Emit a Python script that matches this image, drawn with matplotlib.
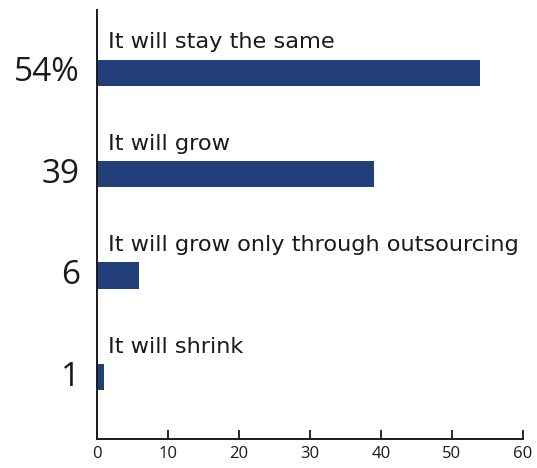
import matplotlib
matplotlib.use("Agg")
import matplotlib.pyplot as plt

plt.rcParams['font.family'] = ['Open Sans', 'DejaVu Sans']

categories = ["It will stay the same", "It will grow",
              "It will grow only through outsourcing", "It will shrink"]
values = [54, 39, 6, 1]
value_labels = ["54%", "39", "6", "1"]
xticks = [0, 10, 20, 30, 40, 50, 60]

bar_color = "#223f7a"
text_color = "#1a1a1a"

fig = plt.figure(figsize=(5.37, 4.68), dpi=100)
ax = fig.add_axes([0.180, 0.062, 0.794, 0.917])

ypos = list(range(len(categories)))
ax.barh(ypos, values, height=0.26, color=bar_color)

for y, cat, lab in zip(ypos, categories, value_labels):
    ax.annotate(cat, xy=(0, y), xytext=(8, 22), textcoords="offset points",
                ha="left", va="center", fontsize=16.2, color=text_color,
                family=["DejaVu Sans"])
    ax.annotate(lab, xy=(0, y), xytext=(-12, 0), textcoords="offset points",
                ha="right", va="center", fontsize=24, color=text_color)

ax.set_xlim(0, 60)
ax.set_ylim(3.61, -0.62)
ax.set_xticks(xticks)
ax.set_yticks([])
ax.tick_params(axis="x", direction="in", length=6.5, width=1.3,
               labelsize=12, pad=5, colors=text_color)
for s in ("top", "right"):
    ax.spines[s].set_visible(False)
for s in ("left", "bottom"):
    ax.spines[s].set_linewidth(1.4)
    ax.spines[s].set_color(text_color)

fig.savefig("out.png", dpi=100)
